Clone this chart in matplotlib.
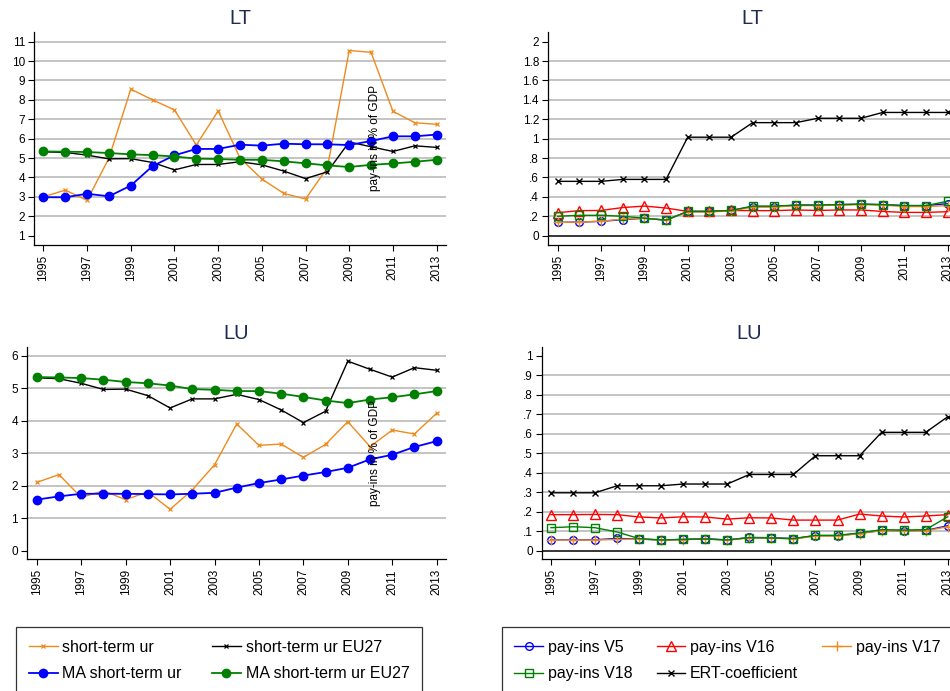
import matplotlib
matplotlib.use("Agg")
import matplotlib.pyplot as plt

plt.rcParams['font.family'] = ['Liberation Sans', 'DejaVu Sans']

years = list(range(1995, 2014))
xtick_years = list(range(1995, 2014, 2))

# ---- LT unemployment panel ----
lt_ur = [3.0, 3.35, 2.82, 4.99, 8.55, 8.0, 7.48, 5.67, 7.43, 5.0, 3.92, 3.18,
         2.89, 4.5, 10.54, 10.45, 7.41, 6.82, 6.74]
eu27_ur = [5.32, 5.29, 5.15, 4.96, 4.97, 4.77, 4.39, 4.67, 4.67, 4.81, 4.65,
           4.33, 3.94, 4.29, 5.83, 5.58, 5.34, 5.63, 5.55]
lt_ma_ur = [2.98, 2.98, 3.16, 3.03, 3.58, 4.59, 5.14, 5.47, 5.47, 5.69, 5.64,
            5.74, 5.71, 5.71, 5.67, 5.88, 6.12, 6.12, 6.21]
eu27_ma_ur = [5.34, 5.33, 5.31, 5.26, 5.19, 5.15, 5.08, 4.97, 4.95, 4.91, 4.91,
              4.83, 4.73, 4.62, 4.54, 4.65, 4.72, 4.81, 4.91]

# ---- LU unemployment panel ----
lu_ur = [2.10, 2.34, 1.64, 1.84, 1.57, 1.81, 1.27, 1.87, 2.64, 3.90, 3.24, 3.28,
         2.87, 3.27, 3.97, 3.20, 3.71, 3.59, 4.23]
lu_ma_ur = [1.57, 1.67, 1.75, 1.75, 1.75, 1.74, 1.73, 1.75, 1.78, 1.94, 2.08,
            2.19, 2.31, 2.42, 2.55, 2.81, 2.95, 3.19, 3.37]

# ---- LT pay-ins panel ----
lt_v5 = [0.137, 0.14, 0.148, 0.165, 0.18, 0.16, 0.25, 0.25, 0.26, 0.30, 0.30,
         0.315, 0.315, 0.32, 0.325, 0.32, 0.31, 0.31, 0.33]
lt_v16 = [0.237, 0.258, 0.26, 0.29, 0.305, 0.285, 0.25, 0.25, 0.26, 0.258, 0.258,
          0.265, 0.26, 0.265, 0.265, 0.25, 0.24, 0.24, 0.247]
lt_v17 = [0.137, 0.14, 0.15, 0.17, 0.18, 0.16, 0.245, 0.245, 0.255, 0.295, 0.295,
          0.31, 0.31, 0.315, 0.32, 0.315, 0.30, 0.30, 0.31]
lt_v18 = [0.20, 0.21, 0.21, 0.20, 0.18, 0.16, 0.25, 0.25, 0.26, 0.305, 0.305,
          0.315, 0.315, 0.32, 0.325, 0.32, 0.31, 0.31, 0.355]
lt_ert = [0.56, 0.56, 0.56, 0.58, 0.58, 0.58, 1.015, 1.015, 1.015, 1.165, 1.165,
          1.165, 1.21, 1.21, 1.21, 1.27, 1.27, 1.27, 1.27]

# ---- LU pay-ins panel ----
lu_v5 = [0.056, 0.056, 0.056, 0.063, 0.06, 0.055, 0.058, 0.062, 0.055, 0.068,
         0.067, 0.062, 0.077, 0.077, 0.089, 0.104, 0.103, 0.104, 0.128]
lu_v16 = [0.185, 0.185, 0.186, 0.185, 0.173, 0.168, 0.174, 0.173, 0.162, 0.169,
          0.168, 0.157, 0.157, 0.157, 0.188, 0.178, 0.173, 0.178, 0.185]
lu_v17 = [0.055, 0.055, 0.055, 0.058, 0.06, 0.054, 0.057, 0.06, 0.054, 0.066,
          0.065, 0.06, 0.075, 0.075, 0.088, 0.103, 0.101, 0.102, 0.123]
lu_v18 = [0.118, 0.123, 0.118, 0.096, 0.062, 0.055, 0.058, 0.06, 0.055, 0.067,
          0.065, 0.062, 0.079, 0.079, 0.091, 0.108, 0.106, 0.108, 0.174]
lu_ert = [0.297, 0.297, 0.297, 0.333, 0.333, 0.333, 0.342, 0.342, 0.342, 0.391,
          0.391, 0.391, 0.487, 0.487, 0.487, 0.607, 0.607, 0.607, 0.687]

# tick labels
tl_yticks = list(range(1, 12))
tl_ylabels = [str(v) for v in tl_yticks]
tr_yticks = [0, 0.2, 0.4, 0.6, 0.8, 1.0, 1.2, 1.4, 1.6, 1.8, 2.0]
tr_ylabels = ["0", ".2", ".4", ".6", ".8", "1", "1.2", "1.4", "1.6", "1.8", "2"]
bl_yticks = [0, 1, 2, 3, 4, 5, 6]
bl_ylabels = [str(v) for v in bl_yticks]
br_yticks = [0, 0.1, 0.2, 0.3, 0.4, 0.5, 0.6, 0.7, 0.8, 0.9, 1.0]
br_ylabels = ["0", ".1", ".2", ".3", ".4", ".5", ".6", ".7", ".8", ".9", "1"]

ORANGE = '#EF8A1C'
BLUE = '#0000FF'
GREEN = '#008000'
RED = '#FF0000'
TITLE_C = '#1C2B4F'
GRID_C = '#B4B4B4'

W, H = 950, 691
fig = plt.figure(figsize=(W / 100, H / 100), dpi=100)


def add_ax(left, right, top, bottom):
    return fig.add_axes([left / W, 1 - bottom / H, (right - left) / W, (bottom - top) / H])


def style(ax, title, yticks, ylabels, ylim, xlim, grid_vals, zero_line=False):
    ax.set_xlim(*xlim)
    ax.set_ylim(*ylim)
    for v in grid_vals:
        ax.axhline(v, color=GRID_C, lw=1.1, zorder=0)
    if zero_line:
        ax.axhline(0, color='black', lw=1.1, zorder=0.5)
    ax.set_yticks(yticks)
    ax.set_yticklabels(ylabels)
    ax.set_xticks(xtick_years)
    ax.set_xticklabels([str(y) for y in xtick_years], rotation=90)
    for s in ['top', 'right']:
        ax.spines[s].set_visible(False)
    for s in ['left', 'bottom']:
        ax.spines[s].set_linewidth(0.9)
    ax.tick_params(direction='out', length=4, width=0.8, labelsize=8.5, pad=2.5, colors='black')
    ax.tick_params(axis='x', pad=3)
    ax.set_title(title, fontsize=14.5, color=TITLE_C, pad=6)


# Top-left: LT unemployment
ax1 = add_ax(34, 446, 32.3, 245)
h_ur, = ax1.plot(years, lt_ur, color=ORANGE, lw=1.0, marker='x', ms=3.5, mew=0.9)
h_eu, = ax1.plot(years, eu27_ur, color='black', lw=1.0, marker='x', ms=3.5, mew=0.9)
h_ma, = ax1.plot(years, lt_ma_ur, color=BLUE, lw=1.3, marker='o', ms=6)
h_maeu, = ax1.plot(years, eu27_ma_ur, color=GREEN, lw=1.3, marker='o', ms=6)
style(ax1, "LT", tl_yticks, tl_ylabels, (0.52, 11.48), (1994.57, 2013.43),
      list(range(2, 12)))

# Bottom-left: LU unemployment
ax3 = add_ax(27, 446, 347.3, 559.3)
ax3.plot(years, lu_ur, color=ORANGE, lw=1.0, marker='x', ms=3.5, mew=0.9)
ax3.plot(years, eu27_ur, color='black', lw=1.0, marker='x', ms=3.5, mew=0.9)
ax3.plot(years, lu_ma_ur, color=BLUE, lw=1.3, marker='o', ms=6)
ax3.plot(years, eu27_ma_ur, color=GREEN, lw=1.3, marker='o', ms=6)
style(ax3, "LU", bl_yticks, bl_ylabels, (-0.266, 6.257), (1994.56, 2013.42),
      list(range(1, 7)))

# Top-right: LT pay-ins
ax2 = add_ax(548, 957.4, 32.3, 245)
h5, = ax2.plot(years, lt_v5, color=BLUE, lw=1.0, marker='o', ms=5.5, mfc='none', mew=1.0)
h16, = ax2.plot(years, lt_v16, color=RED, lw=1.0, marker='^', ms=6.5, mfc='none', mew=1.0)
h17, = ax2.plot(years, lt_v17, color=ORANGE, lw=1.0, marker='+', ms=7, mew=1.0)
h18, = ax2.plot(years, lt_v18, color=GREEN, lw=1.0, marker='s', ms=5.5, mfc='none', mew=1.0)
hert, = ax2.plot(years, lt_ert, color='black', lw=1.0, marker='x', ms=4.5, mew=1.0)
style(ax2, "LT", tr_yticks, tr_ylabels, (-0.096, 2.096), (1994.55, 2013.45),
      [0.2, 0.4, 0.6, 0.8, 1.0, 1.2, 1.4, 1.6, 1.8], zero_line=True)

# Bottom-right: LU pay-ins
ax4 = add_ax(541.7, 957, 347.3, 559.3)
ax4.plot(years, lu_v5, color=BLUE, lw=1.0, marker='o', ms=5.5, mfc='none', mew=1.0)
ax4.plot(years, lu_v16, color=RED, lw=1.0, marker='^', ms=6.5, mfc='none', mew=1.0)
ax4.plot(years, lu_v17, color=ORANGE, lw=1.0, marker='+', ms=7, mew=1.0)
ax4.plot(years, lu_v18, color=GREEN, lw=1.0, marker='s', ms=5.5, mfc='none', mew=1.0)
ax4.plot(years, lu_ert, color='black', lw=1.0, marker='x', ms=4.5, mew=1.0)
style(ax4, "LU", br_yticks, br_ylabels, (-0.044, 1.043), (1994.58, 2013.42),
      [0.1, 0.2, 0.3, 0.4, 0.5, 0.6, 0.7, 0.8, 0.9], zero_line=True)

# stray axis titles of the right panels (as in the reference)
fig.text(375 / W, 1 - 138 / H, "pay-ins in % of GDP", rotation=90,
         ha='center', va='center', fontsize=8.5)
fig.text(375 / W, 1 - 453 / H, "pay-ins in % of GDP", rotation=90,
         ha='center', va='center', fontsize=8.5)

# Legends
leg_kw = dict(loc='upper left', fontsize=11.5, frameon=True, fancybox=False,
              edgecolor='black', handlelength=1.8, handletextpad=0.3,
              borderpad=0.8, labelspacing=0.72, borderaxespad=0, numpoints=1)
leg1 = fig.legend([h_ur, h_ma, h_eu, h_maeu],
                  ["short-term ur", "MA short-term ur", "short-term ur EU27",
                   "MA short-term ur EU27"],
                  bbox_to_anchor=(16 / W, 1 - 627 / H), ncol=2, columnspacing=1.9,
                  **leg_kw)
leg1.get_frame().set_linewidth(0.9)
leg2 = fig.legend([h5, h18, h16, hert, h17],
                  ["pay-ins V5", "pay-ins V18", "pay-ins V16", "ERT-coefficient",
                   "pay-ins V17"],
                  bbox_to_anchor=(501.7 / W, 1 - 627 / H), ncol=3, columnspacing=1.5,
                  **leg_kw)
leg2.get_frame().set_linewidth(0.9)

fig.savefig("out.png", dpi=100)
